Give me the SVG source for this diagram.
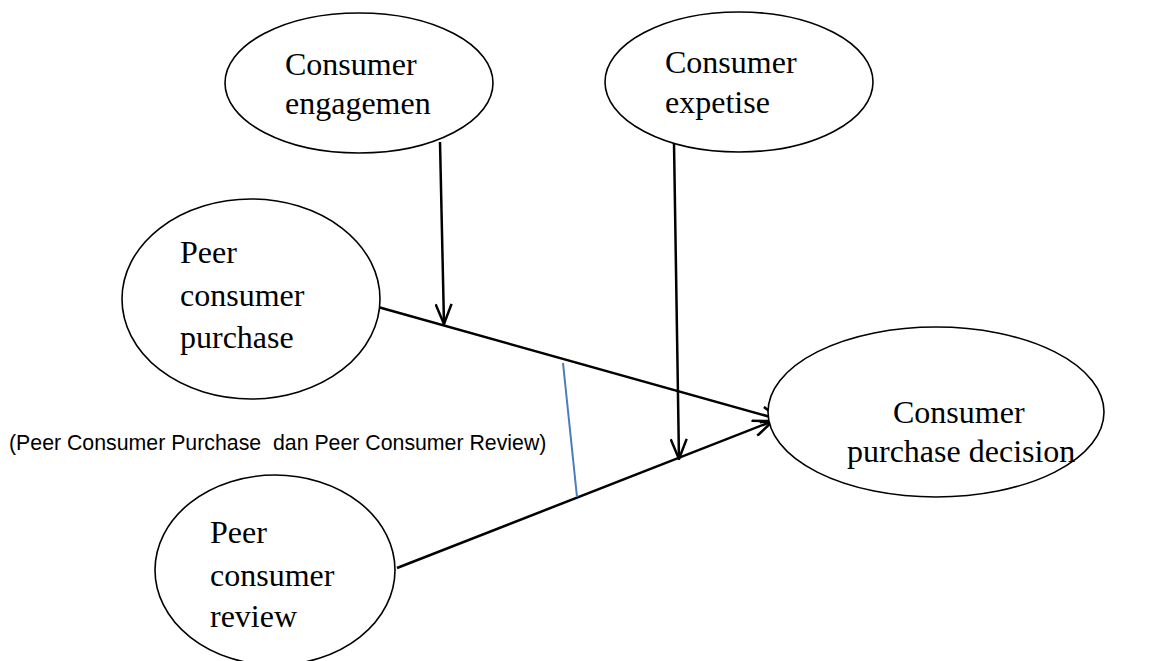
<svg xmlns="http://www.w3.org/2000/svg" width="1152" height="661" viewBox="0 0 1152 661">
  <style>
    .node ellipse { fill: #ffffff; stroke: #000000; stroke-width: 1.6; }
    .label { font-family: "Liberation Serif", "Times New Roman", serif; font-size: 32px; fill: #000000; }
    .note { font-family: "Liberation Sans", Arial, sans-serif; font-size: 21.3px; fill: #000000; }
    .edge { stroke: #000000; stroke-width: 2.5; fill: none; }
    .link { stroke: #4a7ebb; stroke-width: 2; fill: none; }
  </style>
  <defs>
    <marker id="arrow" markerUnits="userSpaceOnUse" viewBox="0 0 22 18" refX="21" refY="9" markerWidth="22" markerHeight="18" orient="auto">
      <path d="M1,1 L21,9 L1,17" fill="none" stroke="#000000" stroke-width="2.5" stroke-linejoin="miter"/>
    </marker>
  </defs>

  <rect x="0" y="0" width="1152" height="661" fill="#ffffff"/>

  <g id="connectors">
    <line class="edge" x1="378" y1="307" x2="781" y2="420" marker-end="url(#arrow)"/>
    <line class="edge" x1="397" y1="568" x2="773" y2="421" marker-end="url(#arrow)"/>
    <line class="edge" x1="440" y1="142" x2="444" y2="324" marker-end="url(#arrow)"/>
    <line class="edge" x1="674" y1="143" x2="679" y2="459" marker-end="url(#arrow)"/>
    <line class="link" x1="563" y1="363" x2="577" y2="497"/>
  </g>

  <g id="consumer-engagement" class="node">
    <ellipse cx="359" cy="83" rx="134" ry="70"/>
    <text class="label" x="285" y="75">Consumer</text>
    <text class="label" x="285" y="114">engagemen</text>
  </g>

  <g id="consumer-expertise" class="node">
    <ellipse cx="739" cy="82" rx="134" ry="70"/>
    <text class="label" x="665" y="73">Consumer</text>
    <text class="label" x="665" y="113">expetise</text>
  </g>

  <g id="peer-consumer-purchase" class="node">
    <ellipse cx="251" cy="299" rx="129" ry="100"/>
    <text class="label" x="180" y="263">Peer</text>
    <text class="label" x="180" y="306">consumer</text>
    <text class="label" x="180" y="348">purchase</text>
  </g>

  <g id="consumer-purchase-decision" class="node">
    <ellipse cx="936" cy="412" rx="168" ry="85"/>
    <text class="label" x="893" y="423">Consumer</text>
    <text class="label" x="847" y="462">purchase decision</text>
  </g>

  <g id="peer-consumer-review" class="node">
    <ellipse cx="275" cy="570" rx="120" ry="95"/>
    <text class="label" x="210" y="543">Peer</text>
    <text class="label" x="210" y="586">consumer</text>
    <text class="label" x="210" y="627">review</text>
  </g>

  <g id="moderation-note">
    <text class="note" x="9" y="450" xml:space="preserve">(Peer Consumer Purchase  dan Peer Consumer Review)</text>
  </g>
</svg>
